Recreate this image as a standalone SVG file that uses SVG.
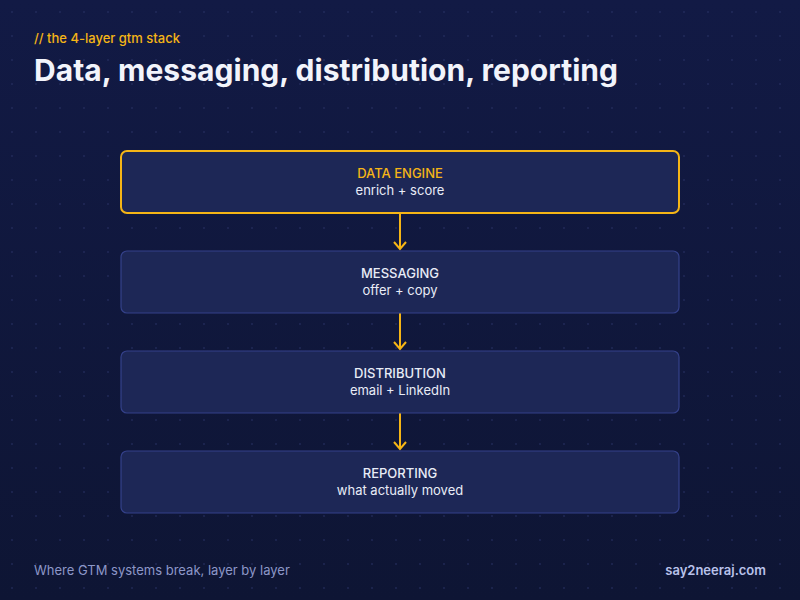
<svg xmlns="http://www.w3.org/2000/svg" width="800" height="600" viewBox="0 0 800 600">
<style>
.bx{fill:#1d2756;stroke:#34418a;stroke-width:1.2}
.hl{stroke:#f5b516;stroke-width:2}
.t1{font-family:Inter,"Liberation Sans",sans-serif;font-size:13px;font-weight:500;fill:#e8ecf7;text-anchor:middle}
.t2{font-family:Inter,"Liberation Sans",sans-serif;font-size:13px;fill:#e8ecf7;text-anchor:middle}
.c{stroke:#f5b516;stroke-width:2;fill:none}
</style>
<defs>
<linearGradient id="bg" x1="0" y1="0" x2="0" y2="1"><stop offset="0" stop-color="#121a45"/><stop offset="1" stop-color="#0e1534"/></linearGradient>
<pattern id="dots" width="24" height="24" patternUnits="userSpaceOnUse"><circle cx="12" cy="12" r="0.8" fill="#2a3468"/></pattern>
</defs>
<rect width="800" height="600" fill="url(#bg)"/>
<rect width="800" height="600" fill="url(#dots)"/>
<text x="34" y="43" font-family="Inter,'Liberation Sans',sans-serif" font-size="13" font-weight="500" fill="#f5b516">// the 4-layer gtm stack</text>
<text x="34" y="81" font-family="Inter,'Liberation Sans',sans-serif" font-size="30" font-weight="700" fill="#f2f4fb" textLength="584">Data, messaging, distribution, reporting</text>
<g id="connectors">
<path class="c" d="M400 213 V249 M394 242 L400 249 L406 242"/>
<path class="c" d="M400 313 V349 M394 342 L400 349 L406 342"/>
<path class="c" d="M400 413 V449 M394 442 L400 449 L406 442"/>
</g>
<g id="data-engine"><rect class="bx hl" x="121" y="151" width="558" height="62" rx="6"/><text class="t1" x="400" y="178" style="fill:#f5b516">DATA ENGINE</text><text class="t2" x="400" y="195">enrich + score</text></g>
<g id="messaging"><rect class="bx" x="121" y="251" width="558" height="62" rx="6"/><text class="t1" x="400" y="278">MESSAGING</text><text class="t2" x="400" y="295">offer + copy</text></g>
<g id="distribution"><rect class="bx" x="121" y="351" width="558" height="62" rx="6"/><text class="t1" x="400" y="378">DISTRIBUTION</text><text class="t2" x="400" y="395">email + LinkedIn</text></g>
<g id="reporting"><rect class="bx" x="121" y="451" width="558" height="62" rx="6"/><text class="t1" x="400" y="478">REPORTING</text><text class="t2" x="400" y="495">what actually moved</text></g>
<text x="34" y="575" font-family="Inter,'Liberation Sans',sans-serif" font-size="13" fill="#8d97c8">Where GTM systems break, layer by layer</text>
<text x="766" y="575" text-anchor="end" font-family="Inter,'Liberation Sans',sans-serif" font-size="13" font-weight="600" fill="#b9c2ea">say2neeraj.com</text>
</svg>
